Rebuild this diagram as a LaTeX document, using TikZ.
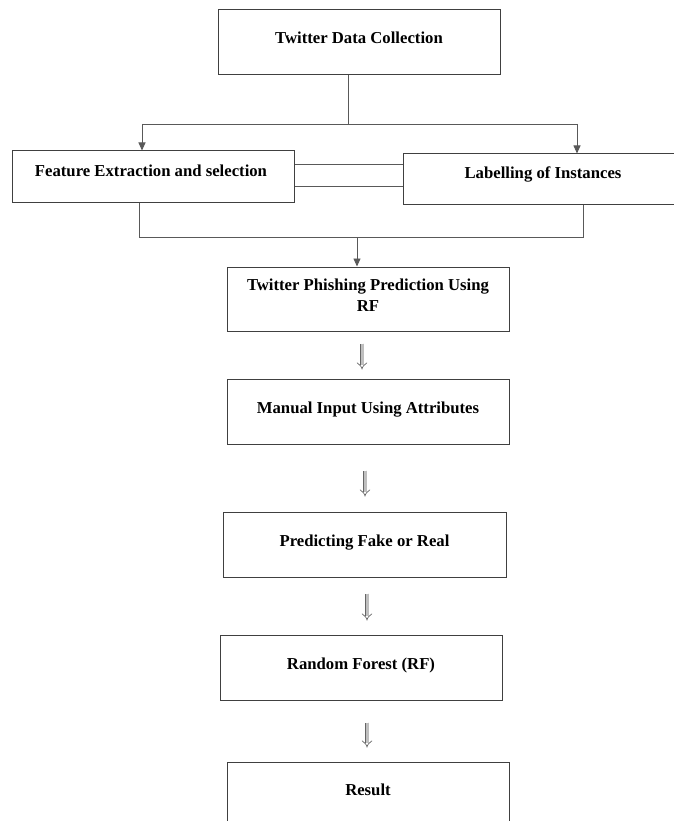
\documentclass[tikz,border=0pt]{standalone}
\usepackage{fontspec}
\setmainfont{Liberation Serif}
\usetikzlibrary{arrows.meta,calc}

\begin{document}
\begin{tikzpicture}[x=1pt,y=-1pt,
  box/.style={draw=black!75,line width=1pt,inner sep=0pt,minimum width=282pt,minimum height=65pt,
    font=\fontsize{16.7}{21}\selectfont\bfseries,align=center,text height=12pt,text depth=9pt},
  link/.style={draw=black!65,line width=0.9pt},
  tip/.style={link,-{Triangle[width=7pt,length=8pt]}},
  hollow/.style={draw=black!60,line width=0.7pt,double=black!25,double distance=3pt,-{Implies}}]
\useasboundingbox (0,0) rectangle (673,821);

\node[box] (coll) at (359,42.5) {Twitter Data Collection};
\node[box,minimum height=51pt,text depth=13pt] (feat) at (153,176.5) {\hspace*{-4pt}Feature Extraction and selection};
\node[box,minimum width=272pt,minimum height=50pt,text depth=13pt] (lab) at (539,179) {\hspace*{8pt}Labelling of Instances};
\node[box,minimum height=64pt,text height=33pt] (phish) at (368,299) {Twitter Phishing Prediction Using\\RF};
\node[box] (inp) at (368,411.5) {Manual Input Using Attributes};
\node[box,minimum width=283pt] (pred) at (364.5,544.5) {Predicting Fake or Real};
\node[box] (rf) at (361,667.5) {Random Forest (RF)};
\node[box,minimum height=64pt] (res) at (368,794) {Result};

% split to the two branches
\coordinate (sm) at (348,124);
\coordinate (sl) at (142,124);
\coordinate (sr) at (577,124);
\draw[link] (coll.south -| sm) -- (sm);
\draw[link] (sl) -- (sr);
\draw[tip] (sl) -- (sl |- feat.north);
\draw[tip] (sr) -- (sr |- lab.north);

\draw[link] ([yshift=12.5pt]feat.east) -- ([yshift=12.5pt]feat.east -| lab.west);
\draw[link] ([yshift=-9.5pt]feat.east) -- ([yshift=-9.5pt]feat.east -| lab.west);

% join below
\coordinate (jl) at (139,237);
\coordinate (jr) at (583,237);
\coordinate (jm) at (357,237);
\draw[link] (feat.south -| jl) -- (jl) -- (jr) -- (lab.south -| jr);
\draw[tip] (jm) -- (jm |- phish.north);

% hollow arrows down the chain
\coordinate (h1) at ($(phish.south)+(-6,12)$);
\coordinate (h2) at ($(inp.south)+(-3,26)$);
\coordinate (h3) at ($(pred.south)+(2.5,16)$);
\coordinate (h4) at ($(rf.south)+(6,22)$);
\draw[hollow] (h1) -- ($(h1 |- inp.north)+(0,-9)$);
\draw[hollow] (h2) -- ($(h2 |- pred.north)+(0,-15)$);
\draw[hollow] (h3) -- ($(h3 |- rf.north)+(0,-14)$);
\draw[hollow] (h4) -- ($(h4 |- res.north)+(0,-14)$);

\end{tikzpicture}
\end{document}
